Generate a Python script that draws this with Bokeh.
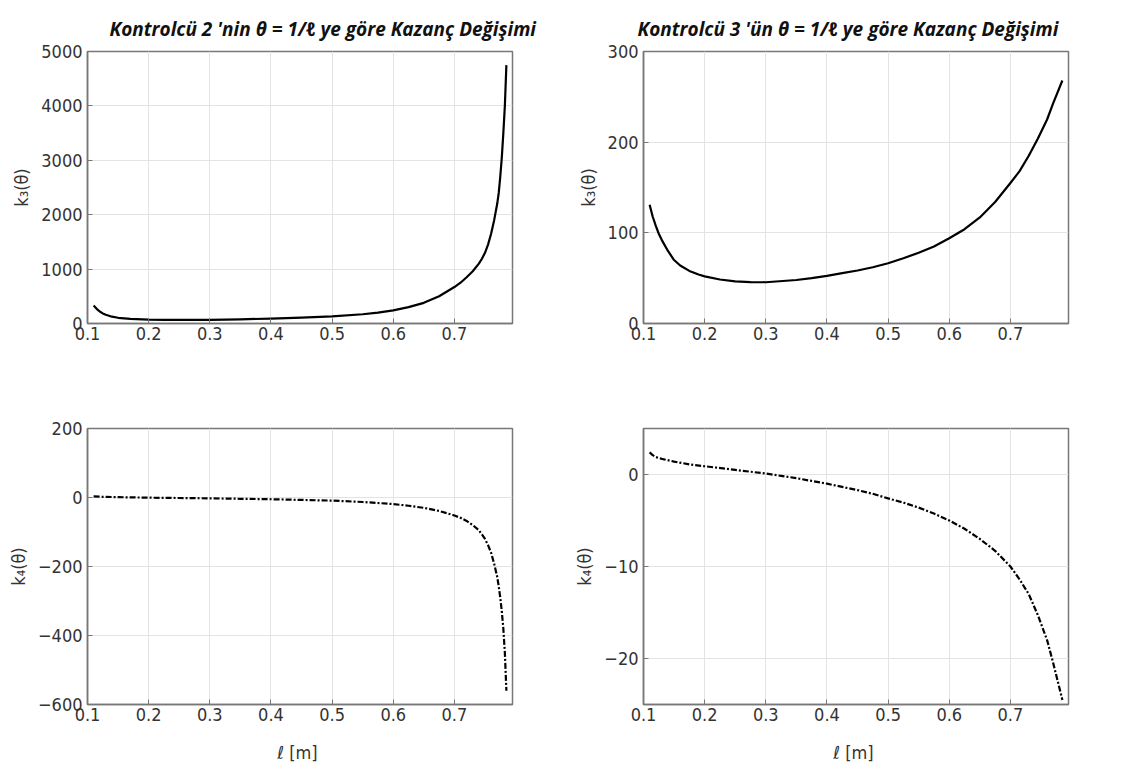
from bokeh.plotting import figure
from bokeh.layouts import column, row
from bokeh.models import FixedTicker, Range1d
from bokeh.embed import file_html
from bokeh.resources import INLINE

# ---- data ----
ell_tl = [0.11, 0.115, 0.12, 0.125, 0.13, 0.14, 0.15, 0.17, 0.20, 0.225, 0.25, 0.30,
          0.35, 0.40, 0.45, 0.50, 0.55, 0.575, 0.60, 0.625, 0.65, 0.675, 0.70, 0.71,
          0.72, 0.73, 0.74, 0.745, 0.75, 0.755, 0.76, 0.765, 0.77, 0.7725, 0.775,
          0.7775, 0.78, 0.7825, 0.785]
k3_c2 = [330, 270, 220, 185, 160, 125, 105, 85, 70, 66, 65, 68,
         77, 90, 108, 130, 170, 200, 240, 300, 380, 500, 670, 750,
         850, 960, 1100, 1190, 1300, 1450, 1650, 1900, 2200, 2400, 2700,
         3050, 3500, 4000, 4750]

ell_tr = [0.11, 0.115, 0.12, 0.125, 0.13, 0.14, 0.15, 0.16, 0.175, 0.19, 0.20, 0.225,
          0.25, 0.275, 0.30, 0.35, 0.375, 0.40, 0.425, 0.45, 0.475, 0.50, 0.525, 0.55,
          0.575, 0.60, 0.625, 0.65, 0.675, 0.70, 0.715, 0.73, 0.745, 0.76, 0.77, 0.785]
k3_c3 = [131, 118, 108, 99, 92, 80, 70, 64, 58, 54, 52, 48.5,
         46.5, 45.6, 45.5, 48, 50, 52.5, 55.5, 58.5, 62, 66.5, 72, 78,
         85, 94, 104, 117, 134, 155, 168, 185, 204, 225, 243, 268]

ell_bl = [0.11, 0.125, 0.15, 0.20, 0.25, 0.30, 0.35, 0.40, 0.45, 0.50, 0.55, 0.60,
          0.625, 0.65, 0.675, 0.70, 0.71, 0.72, 0.73, 0.74, 0.745, 0.75, 0.755, 0.76,
          0.765, 0.77, 0.7725, 0.775, 0.7775, 0.78, 0.7825, 0.785]
k4_c2 = [3, 2, 1, -0.5, -1.5, -2.5, -3.7, -5, -7, -9, -13, -19,
         -24, -30, -39, -52, -59, -68, -80, -95, -107, -120, -138, -160,
         -192, -230, -258, -290, -330, -380, -450, -560]

ell_br = [0.11, 0.115, 0.12, 0.13, 0.15, 0.175, 0.20, 0.25, 0.30, 0.325, 0.35, 0.375,
          0.40, 0.425, 0.45, 0.475, 0.50, 0.525, 0.55, 0.575, 0.60, 0.625, 0.65, 0.675,
          0.70, 0.715, 0.73, 0.745, 0.76, 0.77, 0.785]
k4_c3 = [2.4, 2.1, 1.9, 1.7, 1.4, 1.1, 0.9, 0.5, 0.1, -0.15, -0.4, -0.7,
         -1.0, -1.35, -1.7, -2.1, -2.6, -3.05, -3.6, -4.25, -5.0, -5.9, -7.0, -8.3,
         -10.0, -11.4, -13.0, -15.3, -18.0, -20.5, -24.5]

x_ticks = [0.1, 0.2, 0.3, 0.4, 0.5, 0.6, 0.7]
y_ticks_tl = [0, 1000, 2000, 3000, 4000, 5000]
y_ticks_tr = [0, 100, 200, 300]
y_ticks_bl = [-600, -400, -200, 0, 200]
y_ticks_br = [-20, -10, 0]

title_c2 = "Kontrolcü 2 'nin  θ = 1/ℓ  ye göre Kazanç Değişimi"
title_c3 = "Kontrolcü 3 'ün   θ = 1/ℓ  ye göre Kazanç Değişimi"
ylab_k3 = "k₃(θ)"
ylab_k4 = "k₄(θ)"
xlab = "ℓ  [m]"

TICK_FONT = "DejaVu Sans Condensed, Liberation Sans, sans-serif"


def make(w, h, bl, br, bt, bb, yr, yt, title=None, title_off=0, xlabel=None, ylabel=None):
    p = figure(width=w, height=h, output_backend="svg", toolbar_location=None,
               x_range=Range1d(0.1, 0.795), y_range=Range1d(*yr),
               min_border_left=bl, min_border_right=br,
               min_border_top=bt, min_border_bottom=bb,
               background_fill_color="white", border_fill_color="white")
    p.outline_line_color = "#777777"
    p.outline_line_width = 1.5
    for ax in (p.xaxis, p.yaxis):
        ax.axis_line_color = "#777777"
        ax.axis_line_width = 1.5
        ax.major_tick_in = 5
        ax.major_tick_out = 0
        ax.minor_tick_line_color = None
        ax.major_tick_line_color = "#777777"
        ax.major_label_text_font = TICK_FONT
        ax.major_label_text_font_size = "18px"
        ax.major_label_text_color = "#333333"
        ax.axis_label_text_font = TICK_FONT
        ax.axis_label_text_font_size = "18px"
        ax.axis_label_text_font_style = "normal"
        ax.axis_label_text_color = "#333333"
    p.xaxis.ticker = FixedTicker(ticks=x_ticks)
    p.yaxis.ticker = FixedTicker(ticks=yt)
    p.xaxis.major_label_standoff = 3
    p.yaxis.major_label_standoff = 5
    p.grid.grid_line_color = "#e3e3e3"
    p.grid.grid_line_width = 1
    if ylabel:
        p.yaxis.axis_label = ylabel
        p.yaxis.axis_label_standoff = 6
    if xlabel:
        p.xaxis.axis_label = xlabel
        p.xaxis.axis_label_standoff = 18
    if title:
        p.title.text = title
        p.title.text_font = "Open Sans"
        p.title.text_font_style = "bold italic"
        p.title.text_font_size = "19px"
        p.title.text_color = "#111111"
        p.title.align = "left"
        p.title.offset = title_off
        p.title.standoff = 20
    return p


p1 = make(560, 392, 87, 48, 51, 69, (0, 5000), y_ticks_tl, title=title_c2, title_off=22,
          ylabel=ylab_k3)
p1.line(ell_tl, k3_c2, line_color="black", line_width=2.2, line_join="round")

p2 = make(561, 392, 83, 53, 51, 69, (0, 300), y_ticks_tr, title=title_c3, title_off=-6,
          ylabel=ylab_k3)
p2.line(ell_tr, k3_c3, line_color="black", line_width=2.2, line_join="round")

p3 = make(560, 391, 87, 48, 36, 79, (-600, 200), y_ticks_bl, xlabel=xlab, ylabel=ylab_k4)
p3.line(ell_bl, k4_c2, line_color="black", line_width=2.2, line_dash="6 2 2 2",
        line_join="round")

p4 = make(561, 391, 83, 53, 36, 79, (-25, 5), y_ticks_br, xlabel=xlab, ylabel=ylab_k4)
p4.line(ell_br, k4_c3, line_color="black", line_width=2.2, line_dash="6 2 2 2",
        line_join="round")

layout = column(row(p1, p2, spacing=0), row(p3, p4, spacing=0), spacing=0)
open("out.html", "w").write(file_html(layout, INLINE))
